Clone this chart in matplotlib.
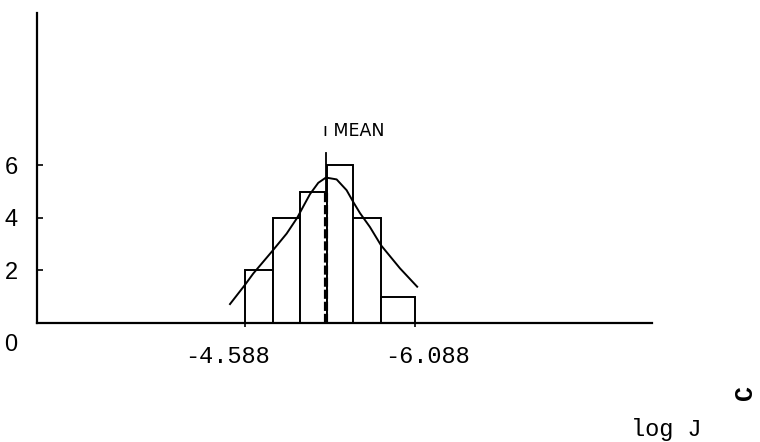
import numpy as np
import matplotlib.pyplot as plt
from matplotlib.transforms import ScaledTranslation

# histogram bins (log J)
bin_edges = [-4.588, -4.835, -5.073, -5.312, -5.541, -5.788, -6.088]
counts = [2, 4, 5, 6, 4, 1]

# hand drawn fitted curve
curve_x = [-4.456, -4.588, -4.661, -4.832, -4.956, -5.049, -5.105, -5.162, -5.235, -5.303,
           -5.397, -5.485, -5.544, -5.603, -5.691, -5.788, -5.956, -6.108]
curve_y = [0.72, 1.45, 1.88, 2.75, 3.40, 4.00, 4.45, 4.90, 5.33, 5.53,
           5.46, 5.05, 4.60, 4.18, 3.65, 2.96, 2.08, 1.38]

mean_x = -5.305
mean_dash_top = 5.03
mean_line_top = 6.46

x_ticks = [-4.588, -6.088]
x_labels = ['-4.588', '-6.088']
y_ticks = [0, 2, 4, 6]
y_labels = ['0', '2', '4', '6']

fig = plt.figure(figsize=(7.6, 4.42), dpi=100)
ax = fig.add_axes([0.0487, 0.2692, 0.809, 0.7014])

edges = np.array(bin_edges)
ax.bar(edges[:-1], counts, width=np.diff(edges), align='edge',
       facecolor='white', edgecolor='black', linewidth=1.4, zorder=2)
ax.plot(curve_x, curve_y, color='black', linewidth=1.4, zorder=3,
        solid_joinstyle='round')

ax.plot([mean_x, mean_x], [0, mean_dash_top], color='black', linewidth=3.0,
        linestyle=(0, (2.2, 0.7)), zorder=4)
ax.plot([mean_x, mean_x], [mean_dash_top, mean_line_top], color='black',
        linewidth=1.3, zorder=4)
ax.text(mean_x, 7.11, 'ı MEAN', ha='left', va='baseline', fontsize=12.5,
        family='DejaVu Sans',
        transform=ax.transData + ScaledTranslation(-3 / 100, 0, fig.dpi_scale_trans))

ax.set_xlim(-2.7527, -8.1792)
ax.set_ylim(0, 11.787)

for s in ['top', 'right']:
    ax.spines[s].set_visible(False)
for s in ['left', 'bottom']:
    ax.spines[s].set_linewidth(1.6)

ax.set_xticks(x_ticks)
ax.set_xticklabels(x_labels, family='Liberation Mono', fontsize=17)
ax.tick_params(axis='x', direction='out', length=3, width=1.2, pad=13)
ax.set_yticks(y_ticks)
ax.set_yticklabels(y_labels, family='Liberation Sans', fontsize=17)
ax.tick_params(axis='y', direction='in', length=4, width=1.2, pad=14)

# nudge labels like the original print
shifts = [-17, 13]
for lab, dx in zip(ax.get_xticklabels(), shifts):
    lab.set_transform(lab.get_transform() + ScaledTranslation(dx / 100, 0, fig.dpi_scale_trans))
zero_lab = ax.get_yticklabels()[0]
zero_lab.set_transform(zero_lab.get_transform() + ScaledTranslation(0, -19 / 100, fig.dpi_scale_trans))

fig.text(666 / 760, 1 - 436 / 442, 'log J', ha='center', va='baseline',
         family='Liberation Mono', fontsize=17)
fig.text(745 / 760, 1 - 392 / 442, 'C', ha='center', va='center', rotation=90,
         family='Liberation Mono', fontsize=18, fontweight='bold')

fig.savefig('out.png', dpi=100)
